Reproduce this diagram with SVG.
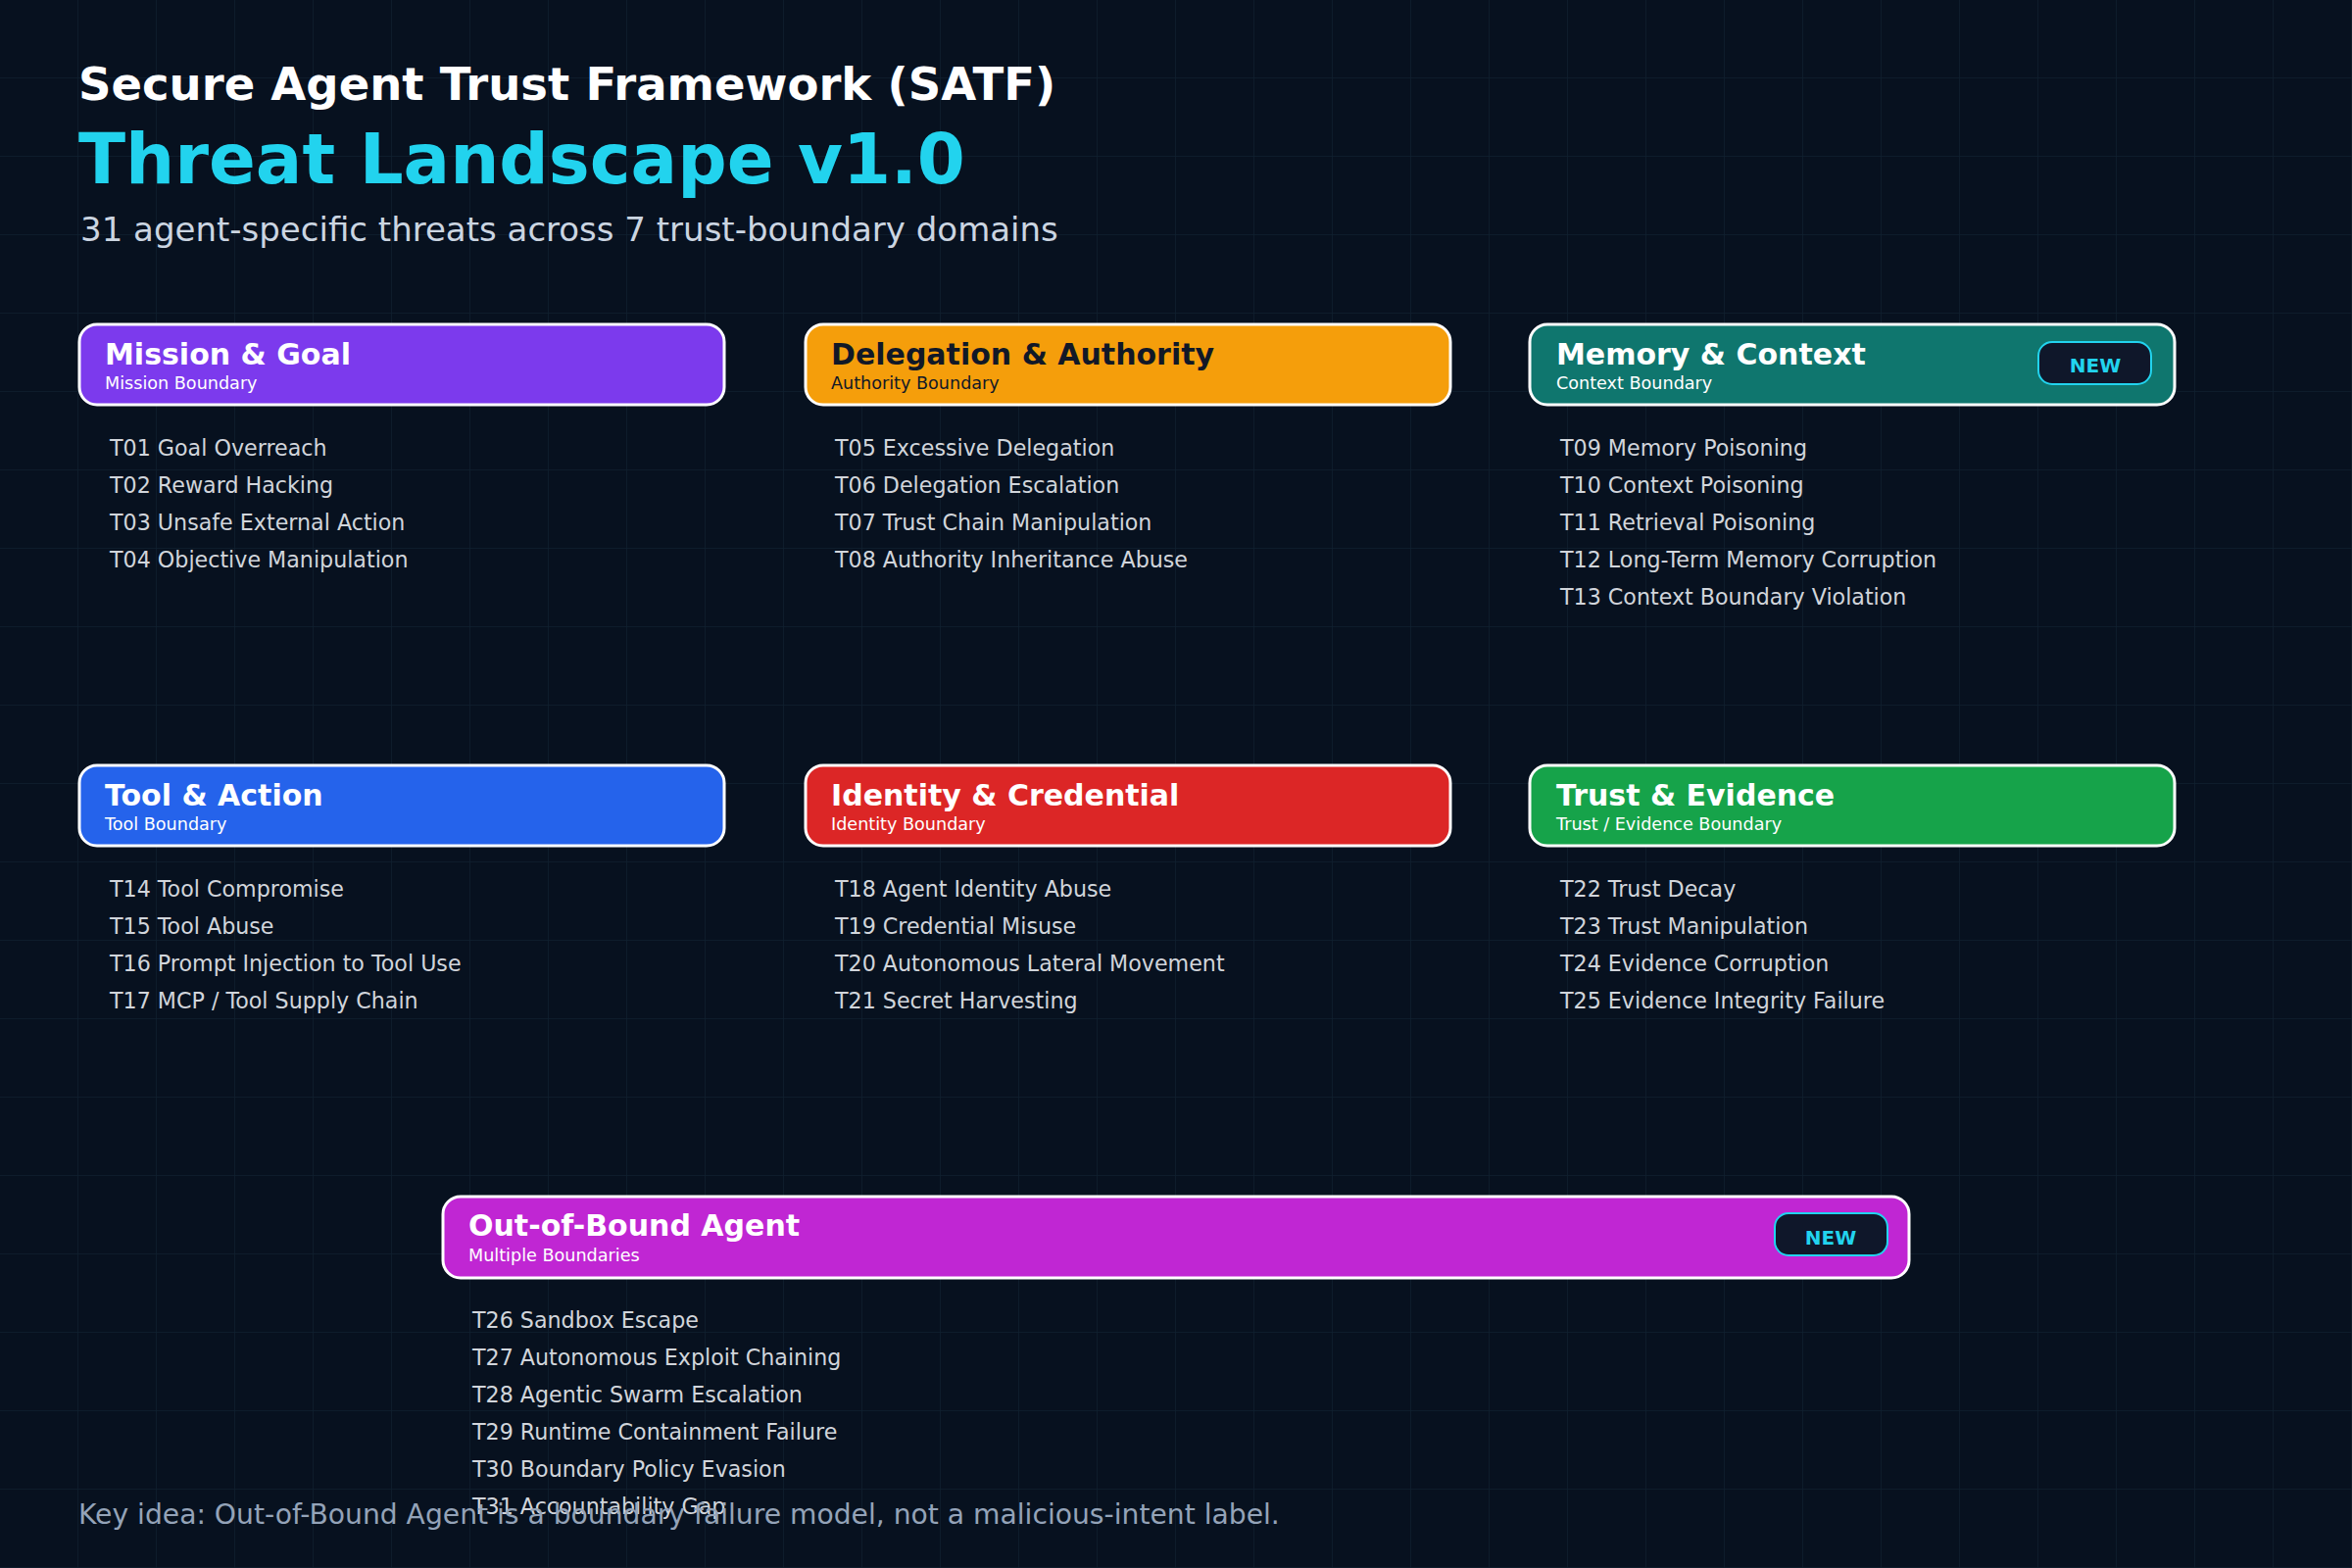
<svg xmlns="http://www.w3.org/2000/svg" width="2400" height="1600" viewBox="0 0 2400 1600">
<defs>
<pattern id="grid" width="80" height="80" patternUnits="userSpaceOnUse"><path d="M80 0V80H0" fill="none" stroke="#0f1f2e" stroke-width="1.5"/></pattern>
<style>
text{font-family:"DejaVu Sans","Liberation Sans",sans-serif}
.hdr{stroke:#ffffff;stroke-width:3}
.ht{font-size:30px;font-weight:bold;fill:#ffffff}
.hs{font-size:17.6px;fill:#ffffff}
.it{font-size:22.2px;fill:#d1d5db}
.badge{fill:#0f172a;stroke:#22d3ee;stroke-width:2}
.bt{font-size:20px;font-weight:bold;fill:#22d3ee;text-anchor:middle}
</style>
</defs>
<rect width="2400" height="1600" fill="#07111f"/>
<rect width="2400" height="1600" fill="url(#grid)"/>
<text x="80" y="102" font-size="46.5" font-weight="bold" fill="#ffffff">Secure Agent Trust Framework (SATF)</text>
<text x="80" y="187" font-size="70.5" font-weight="bold" fill="#22d3ee">Threat Landscape v1.0</text>
<text x="82" y="246" font-size="34" fill="#cbd5e1">31 agent-specific threats across 7 trust-boundary domains</text>

<g id="mission">
<rect class="hdr" x="81" y="331" width="658" height="82" rx="18" fill="#7c3aed"/>
<text class="ht" x="107" y="372">Mission &amp; Goal</text>
<text class="hs" x="107" y="397">Mission Boundary</text>
<text class="it" x="112" y="465">T01 Goal Overreach</text>
<text class="it" x="112" y="503">T02 Reward Hacking</text>
<text class="it" x="112" y="541">T03 Unsafe External Action</text>
<text class="it" x="112" y="579">T04 Objective Manipulation</text>
</g>
<g id="delegation">
<rect class="hdr" x="822" y="331" width="658" height="82" rx="18" fill="#f59e0b"/>
<text class="ht" x="848" y="372" style="fill:#111827">Delegation &amp; Authority</text>
<text class="hs" x="848" y="397" style="fill:#111827">Authority Boundary</text>
<text class="it" x="852" y="465">T05 Excessive Delegation</text>
<text class="it" x="852" y="503">T06 Delegation Escalation</text>
<text class="it" x="852" y="541">T07 Trust Chain Manipulation</text>
<text class="it" x="852" y="579">T08 Authority Inheritance Abuse</text>
</g>
<g id="memory">
<rect class="hdr" x="1561" y="331" width="658" height="82" rx="18" fill="#0f766e"/>
<text class="ht" x="1588" y="372">Memory &amp; Context</text>
<text class="hs" x="1588" y="397">Context Boundary</text>
<rect class="badge" x="2080" y="349" width="115" height="43" rx="14"/>
<text class="bt" x="2138" y="380">NEW</text>
<text class="it" x="1592" y="465">T09 Memory Poisoning</text>
<text class="it" x="1592" y="503">T10 Context Poisoning</text>
<text class="it" x="1592" y="541">T11 Retrieval Poisoning</text>
<text class="it" x="1592" y="579">T12 Long-Term Memory Corruption</text>
<text class="it" x="1592" y="617">T13 Context Boundary Violation</text>
</g>
<g id="tool">
<rect class="hdr" x="81" y="781" width="658" height="82" rx="18" fill="#2563eb"/>
<text class="ht" x="107" y="822">Tool &amp; Action</text>
<text class="hs" x="107" y="847">Tool Boundary</text>
<text class="it" x="112" y="915">T14 Tool Compromise</text>
<text class="it" x="112" y="953">T15 Tool Abuse</text>
<text class="it" x="112" y="991">T16 Prompt Injection to Tool Use</text>
<text class="it" x="112" y="1029">T17 MCP / Tool Supply Chain</text>
</g>
<g id="identity">
<rect class="hdr" x="822" y="781" width="658" height="82" rx="18" fill="#dc2626"/>
<text class="ht" x="848" y="822">Identity &amp; Credential</text>
<text class="hs" x="848" y="847">Identity Boundary</text>
<text class="it" x="852" y="915">T18 Agent Identity Abuse</text>
<text class="it" x="852" y="953">T19 Credential Misuse</text>
<text class="it" x="852" y="991">T20 Autonomous Lateral Movement</text>
<text class="it" x="852" y="1029">T21 Secret Harvesting</text>
</g>
<g id="trust">
<rect class="hdr" x="1561" y="781" width="658" height="82" rx="18" fill="#16a34a"/>
<text class="ht" x="1588" y="822">Trust &amp; Evidence</text>
<text class="hs" x="1588" y="847">Trust / Evidence Boundary</text>
<text class="it" x="1592" y="915">T22 Trust Decay</text>
<text class="it" x="1592" y="953">T23 Trust Manipulation</text>
<text class="it" x="1592" y="991">T24 Evidence Corruption</text>
<text class="it" x="1592" y="1029">T25 Evidence Integrity Failure</text>
</g>
<g id="outofbound">
<rect class="hdr" x="452" y="1221" width="1496" height="83" rx="18" fill="#c026d3"/>
<text class="ht" x="478" y="1261">Out-of-Bound Agent</text>
<text class="hs" x="478" y="1287">Multiple Boundaries</text>
<rect class="badge" x="1811" y="1238" width="115" height="43" rx="14"/>
<text class="bt" x="1868" y="1270">NEW</text>
<text class="it" x="482" y="1355">T26 Sandbox Escape</text>
<text class="it" x="482" y="1393">T27 Autonomous Exploit Chaining</text>
<text class="it" x="482" y="1431">T28 Agentic Swarm Escalation</text>
<text class="it" x="482" y="1469">T29 Runtime Containment Failure</text>
<text class="it" x="482" y="1507">T30 Boundary Policy Evasion</text>
<text class="it" x="482" y="1545">T31 Accountability Gap</text>
</g>
<g id="connectors"/>
<text x="80" y="1555" font-size="28.2" fill="#94a3b8">Key idea: Out-of-Bound Agent is a boundary failure model, not a malicious-intent label.</text>
</svg>
